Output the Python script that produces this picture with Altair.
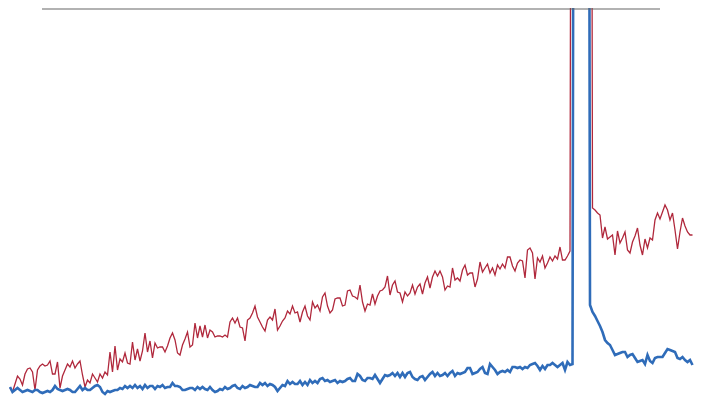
import altair as alt
import pandas as pd

S = 1500  # spike values that run far above the top of the plot

red = [
    12, 8, 16, 24, 21, 15, 26, 31, 32, 28,
    10, 30, 34, 36, 34, 35, 39, 26, 26, 38,
    12, 24, 30, 36, 33, 39, 32, 36, 39, 25,
    13, 20, 17, 26, 22, 18, 26, 22, 28, 25,
    48, 28, 54, 30, 41, 38, 47, 37, 36, 58,
    40, 51, 39, 49, 67, 48, 59, 42, 57, 52,
    53, 53, 48, 54, 62, 67, 60, 47, 45, 55,
    61, 68, 53, 55, 77, 62, 74, 63, 75, 62,
    70, 68, 63, 64, 64, 63, 65, 63, 78, 82,
    77, 82, 73, 72, 59, 80, 82, 87, 94, 83,
    78, 73, 69, 80, 83, 80, 91, 70, 74, 79,
    82, 89, 86, 94, 87, 88, 78, 88, 94, 84,
    80, 98, 92, 95, 89, 103, 107, 94, 87, 90,
    101, 102, 102, 94, 95, 109, 110, 104, 103, 101,
    115, 98, 89, 96, 95, 106, 96, 104, 109, 110,
    113, 124, 105, 115, 119, 108, 107, 98, 108, 104,
    107, 115, 106, 113, 116, 106, 117, 123, 112, 123,
    129, 124, 129, 123, 110, 114, 113, 132, 120, 122,
    119, 130, 135, 125, 127, 127, 113, 121, 138, 128,
    132, 136, 127, 132, 125, 135, 131, 136, 132, 143,
    143, 134, 129, 137, 140, 139, 122, 150, 152, 147,
    121, 142, 138, 144, 132, 137, 143, 139, 144, 141,
    153, 140, 140, 144, 149, S, S, S, S, S,
    S, S, S, 192, 190, 187, 185, 162, 173, 161,
    163, 165, 145, 169, 157, 162, 168, 150, 147, 158,
    164, 172, 155, 145, 161, 152, 162, 160, 180, 187,
    181, 188, 195, 190, 180, 187, 170, 151, 168, 182,
    174, 168, 165, 165,
]

blue = [
    13, 8, 10, 12, 10, 8, 9, 10, 9, 8,
    10, 10, 8, 7, 8, 9, 8, 10, 14, 11,
    10, 9, 10, 11, 10, 8, 8, 11, 14, 10,
    12, 10, 10, 12, 14, 15, 13, 8, 6, 9,
    8, 9, 10, 10, 12, 11, 14, 12, 14, 12,
    15, 12, 14, 11, 15, 12, 14, 14, 11, 14,
    13, 15, 12, 13, 13, 17, 14, 14, 13, 10,
    10, 11, 12, 12, 10, 13, 11, 13, 11, 10,
    13, 10, 8, 9, 11, 10, 13, 11, 12, 14,
    15, 12, 11, 14, 12, 13, 15, 14, 13, 13,
    17, 15, 17, 14, 16, 15, 13, 9, 12, 15,
    14, 19, 16, 18, 16, 16, 19, 15, 18, 15,
    20, 17, 19, 17, 21, 22, 19, 20, 18, 19,
    20, 17, 19, 18, 19, 21, 22, 19, 19, 26,
    24, 20, 19, 22, 22, 21, 25, 21, 17, 21,
    25, 24, 25, 27, 24, 27, 23, 27, 23, 27,
    28, 23, 21, 20, 23, 24, 20, 23, 26, 28,
    24, 27, 24, 25, 27, 24, 27, 29, 24, 27,
    26, 27, 28, 32, 32, 26, 27, 28, 31, 33,
    27, 26, 36, 33, 30, 26, 28, 29, 28, 30,
    28, 33, 33, 32, 33, 31, 33, 32, 35, 36,
    37, 34, 30, 34, 31, 35, 35, 37, 35, 33,
    35, 37, 30, 38, 35, 36, S, S, S, S,
    S, S, 95, 88, 84, 79, 74, 68, 60, 57,
    55, 50, 45, 46, 47, 48, 48, 43, 45, 46,
    42, 38, 39, 40, 36, 45, 39, 37, 42, 43,
    43, 43, 47, 51, 50, 49, 48, 42, 41, 43,
    40, 38, 40, 35,
]

n = len(red)
assert len(blue) == n
idx = list(range(n))

red_df = pd.DataFrame({"i": idx, "v": red})
blue_df = pd.DataFrame({"i": idx, "v": blue})

xs = alt.X("i:Q", scale=alt.Scale(domain=[0, n - 1], range=[2, 684.5], nice=False, zero=False), axis=None)
ys = alt.Y("v:Q", scale=alt.Scale(domain=[0, 400], range=[392, -8], nice=False), axis=None)

red_line = alt.Chart(red_df).mark_line(
    color="#b0283c", strokeWidth=1.3, clip=True
).encode(x=xs, y=ys)

blue_line = alt.Chart(blue_df).mark_line(
    color="#2f6cb9", strokeWidth=2.6, clip=True
).encode(x=xs, y=ys)

top_rule = alt.Chart(pd.DataFrame({"a": [0]})).mark_rule(
    color="#666666", strokeWidth=1.2
).encode(x=alt.value(34), x2=alt.value(652), y=alt.value(1))

chart = alt.layer(red_line, blue_line, top_rule).properties(
    width=691,
    height=393,
    padding=0,
    autosize=alt.AutoSizeParams(type="none"),
).configure_view(stroke=None)

chart.save("out.html", embed_options={"renderer": "svg", "actions": False})
